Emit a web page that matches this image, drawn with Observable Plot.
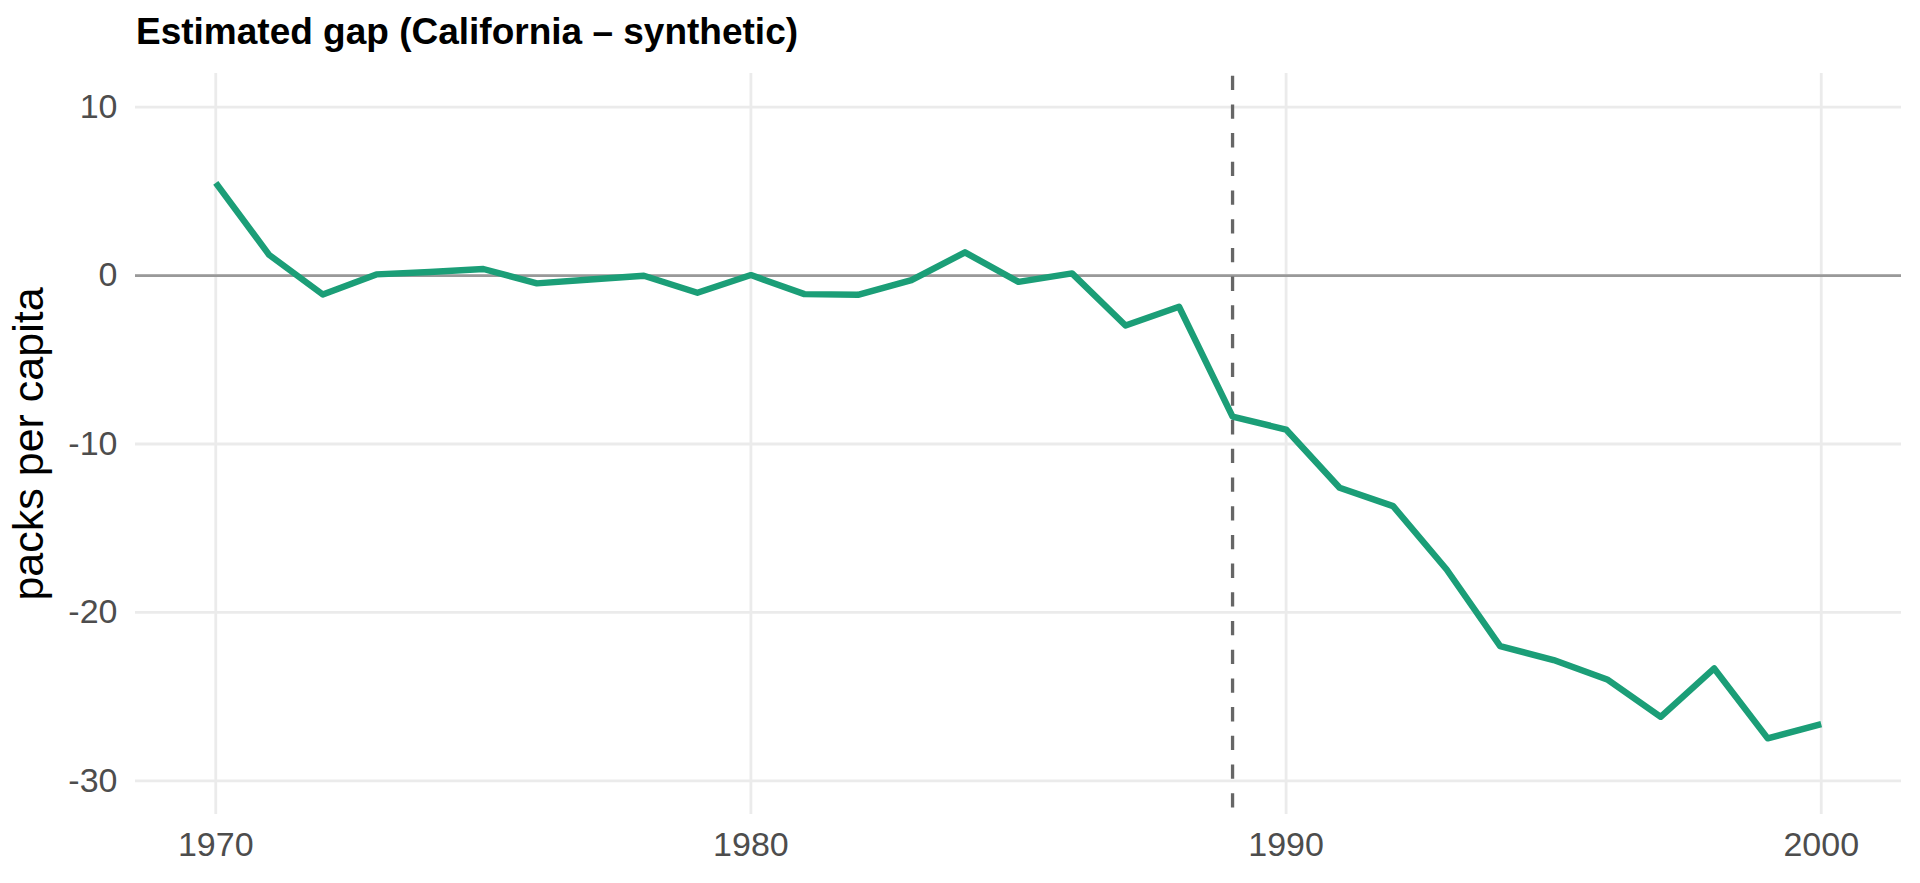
<!DOCTYPE html>
<html>
<head>
<meta charset="utf-8">
<script src="https://cdn.jsdelivr.net/npm/d3@7"></script>
<script src="https://cdn.jsdelivr.net/npm/@observablehq/plot@0.6"></script>
<style>
  body { margin: 0; background: #fff; }
  #title {
    height: 60px; box-sizing: border-box; padding: 13px 0 0 136px;
    font: bold 37px/1 "Liberation Sans", Arial, sans-serif; color: #000;
  }
</style>
</head>
<body>
<div id="title">Estimated gap (California – synthetic)</div>
<div id="chart"></div>
<script>
// años y brecha estimada (California - sintético)
const years = [1970, 1971, 1972, 1973, 1974, 1975, 1976, 1977, 1978, 1979,
  1980, 1981, 1982, 1983, 1984, 1985, 1986, 1987, 1988, 1989,
  1990, 1991, 1992, 1993, 1994, 1995, 1996, 1997, 1998, 1999, 2000]
const gap = [5.51, 1.22, -1.12, 0.07, 0.21, 0.39, -0.46, -0.23, -0.01, -1.02,
  0.03, -1.10, -1.14, -0.27, 1.38, -0.37, 0.13, -2.96, -1.85, -8.38,
  -9.14, -12.6, -13.69, -17.45, -22.0, -22.83, -23.98, -26.2, -23.33, -27.48, -26.63]
const xTicks = [1970, 1980, 1990, 2000]
const yTicks = [-30, -20, -10, 0, 10]
const treatmentYear = 1989
const yLabel = "packs per capita"

const data = years.map((year, i) => ({year, gap: gap[i]}))

let chart = Plot.plot({
  width: 1920,
  height: 823,
  marginTop: 13,
  marginBottom: 69,
  marginLeft: 135,
  marginRight: 19,
  style: {fontFamily: "Liberation Sans, Arial, sans-serif", background: "#fff"},
  x: {domain: [1968.5, 2001.5]},
  y: {domain: [-32, 12]},
  marks: [
    Plot.gridX(xTicks, {stroke: "#ebebeb", strokeOpacity: 1, strokeWidth: 2.8}),
    Plot.gridY(yTicks, {stroke: "#ebebeb", strokeOpacity: 1, strokeWidth: 2.8}),
    Plot.ruleY([0], {stroke: "#999999", strokeWidth: 2.8}),
    Plot.ruleX([treatmentYear], {
      stroke: "#666666", strokeWidth: 3.3,
      strokeDasharray: "14.3,14.4", strokeDashoffset: 26
    }),
    Plot.line(data, {
      x: "year", y: "gap",
      stroke: "#1b9e77", strokeWidth: 6.4,
      strokeLinecap: "butt", strokeLinejoin: "round"
    }),
    Plot.axisX({
      ticks: xTicks, tickSize: 0, tickPadding: 17,
      tickFormat: d => String(d), fontSize: 34, color: "#4d4d4d", label: null
    }),
    Plot.axisY({
      ticks: yTicks, tickSize: 0, tickPadding: 18,
      tickFormat: d => String(d), fontSize: 34, color: "#4d4d4d", label: null
    }),
    Plot.text([yLabel], {
      text: d => d, frameAnchor: "left", rotate: -90, dx: -106,
      fontSize: 43, fill: "#000", textAnchor: "middle"
    })
  ]
})
d3.select('#chart').append(() => chart)
</script>
</body>
</html>
